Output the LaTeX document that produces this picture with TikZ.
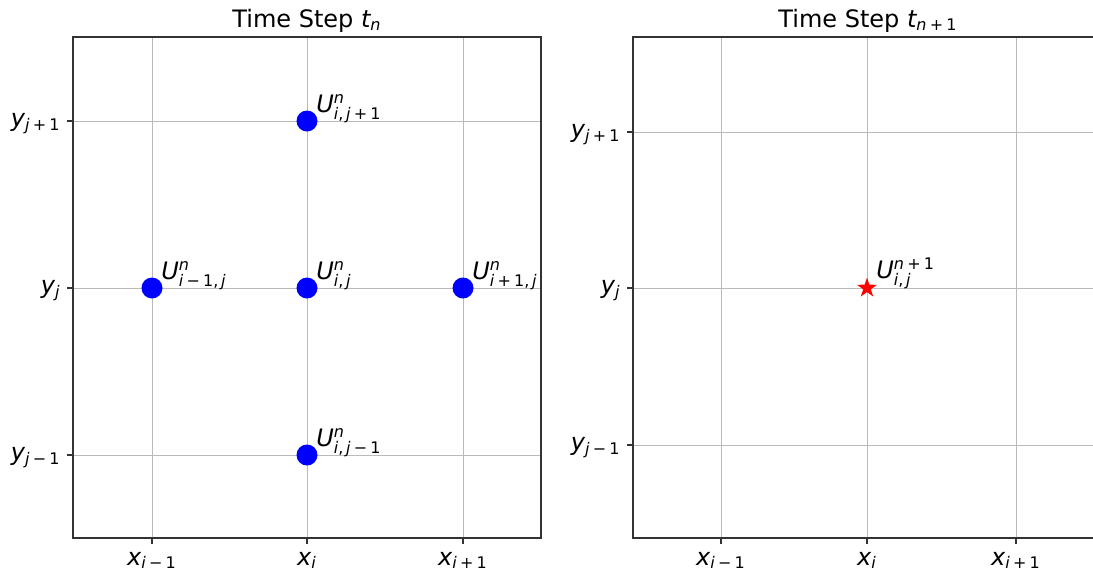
\documentclass[tikz,border=0pt]{standalone}
\usepackage{amsmath}
\usepackage{fontspec}
\setmainfont{DejaVu Sans}
\usetikzlibrary{shapes.geometric}
\newcommand{\mi}[1]{\mathit{#1}}
\newcommand{\tx}[1]{\text{\normalfont #1}}
\newcommand{\mn}{\tx{\hspace{0.2em}−\hspace{0.2em}1}}
\newcommand{\pl}{\tx{\hspace{0.2em}+\hspace{0.2em}1}}
\begin{document}
\begin{tikzpicture}[x=0.5pt,y=-0.5pt,
  font=\fontsize{12}{14}\selectfont,
  gridln/.style={draw=black!27, line width=0.5pt},
  framebox/.style={draw=black!80, line width=0.6pt},
  tickmark/.style={draw=black!80, line width=0.6pt},
  xlab/.style={anchor=base, inner sep=0pt},
  ylab/.style={anchor=mid east, inner sep=0pt},
  dot/.style={circle, fill=blue, inner sep=0pt, minimum size=10.5pt},
  starmark/.style={star, star points=5, star point ratio=2.6, fill=red, inner sep=0pt, minimum size=10.5pt},
  ulab/.style={anchor=base west, inner sep=0pt},
  ttl/.style={anchor=base, inner sep=0pt}]
\useasboundingbox (0,0) rectangle (1093,574);
\clip (0,0) rectangle (1093,574);

% ---------- left panel ----------
\foreach \x in {152,307,463} \draw[gridln] (\x,37) -- (\x,538);
\foreach \y in {121,288,455} \draw[gridln] (73,\y) -- (541,\y);
\draw[framebox] (73,37) rectangle (541,538);
\foreach \x in {152,307,463} \draw[tickmark] (\x,538) -- (\x,544);
\foreach \y in {121,288,455} \draw[tickmark] (73,\y) -- (67,\y);

\node[ttl] (t1) at (307,27) {Time Step $\mi{t}_{\mi{n}}$};

\node[xlab] (lx1) at (152,565) {$\mi{x}_{\mi{i}\mn}$};
\node[xlab] (lx2) at (307,565) {$\mi{x}_{\mi{i}}$};
\node[xlab] (lx3) at (463,565) {$\mi{x}_{\mi{i}\pl}$};
\node[ylab] (ly1) at (61,121) {$\mi{y}_{\mi{j}\pl}$};
\node[ylab] (ly2) at (61,288) {$\mi{y}_{\mi{j}}$};
\node[ylab] (ly3) at (61,455) {$\mi{y}_{\mi{j}\mn}$};

\node[dot] (pN) at (307,121) {};
\node[dot] (pW) at (152,288) {};
\node[dot] (pC) at (307,288) {};
\node[dot] (pE) at (463,288) {};
\node[dot] (pS) at (307,455) {};

\node[ulab] (uN) at (316,112) {$\mi{U}^{\mi{n}}_{\mi{i}\tx{,\,}\mi{j}\pl}$};
\node[ulab] (uW) at (161,279) {$\mi{U}^{\mi{n}}_{\mi{i}\mn\tx{,\,}\mi{j}}$};
\node[ulab] (uC) at (316,279) {$\mi{U}^{\mi{n}}_{\mi{i}\tx{,\,}\mi{j}}$};
\node[ulab] (uE) at (472,279) {$\mi{U}^{\mi{n}}_{\mi{i}\pl\tx{,\,}\mi{j}}$};
\node[ulab] (uS) at (316,446) {$\mi{U}^{\mi{n}}_{\mi{i}\tx{,\,}\mi{j}\mn}$};

% ---------- right panel ----------
\foreach \x in {721,867,1016} \draw[gridln] (\x,37) -- (\x,538);
\foreach \y in {132,288,445} \draw[gridln] (633,\y) -- (1103,\y);
\draw[framebox] (633,37) rectangle (1103,538);
\foreach \x in {721,867,1016} \draw[tickmark] (\x,538) -- (\x,544);
\foreach \y in {132,288,445} \draw[tickmark] (633,\y) -- (627,\y);

\node[ttl] (t2) at (868,27) {Time Step $\mi{t}_{\mi{n}\pl}$};

\node[xlab] (rx1) at (721,565) {$\mi{x}_{\mi{i}\mn}$};
\node[xlab] (rx2) at (867,565) {$\mi{x}_{\mi{i}}$};
\node[xlab] (rx3) at (1016,565) {$\mi{x}_{\mi{i}\pl}$};
\node[ylab] (ry1) at (621,132) {$\mi{y}_{\mi{j}\pl}$};
\node[ylab] (ry2) at (621,288) {$\mi{y}_{\mi{j}}$};
\node[ylab] (ry3) at (621,445) {$\mi{y}_{\mi{j}\mn}$};

\node[starmark] (q) at (867,288) {};
\node[ulab] (uq) at (876,278) {$\mi{U}^{\mi{n}\pl}_{\mi{i}\tx{,\,}\mi{j}}$};
\end{tikzpicture}
\end{document}
